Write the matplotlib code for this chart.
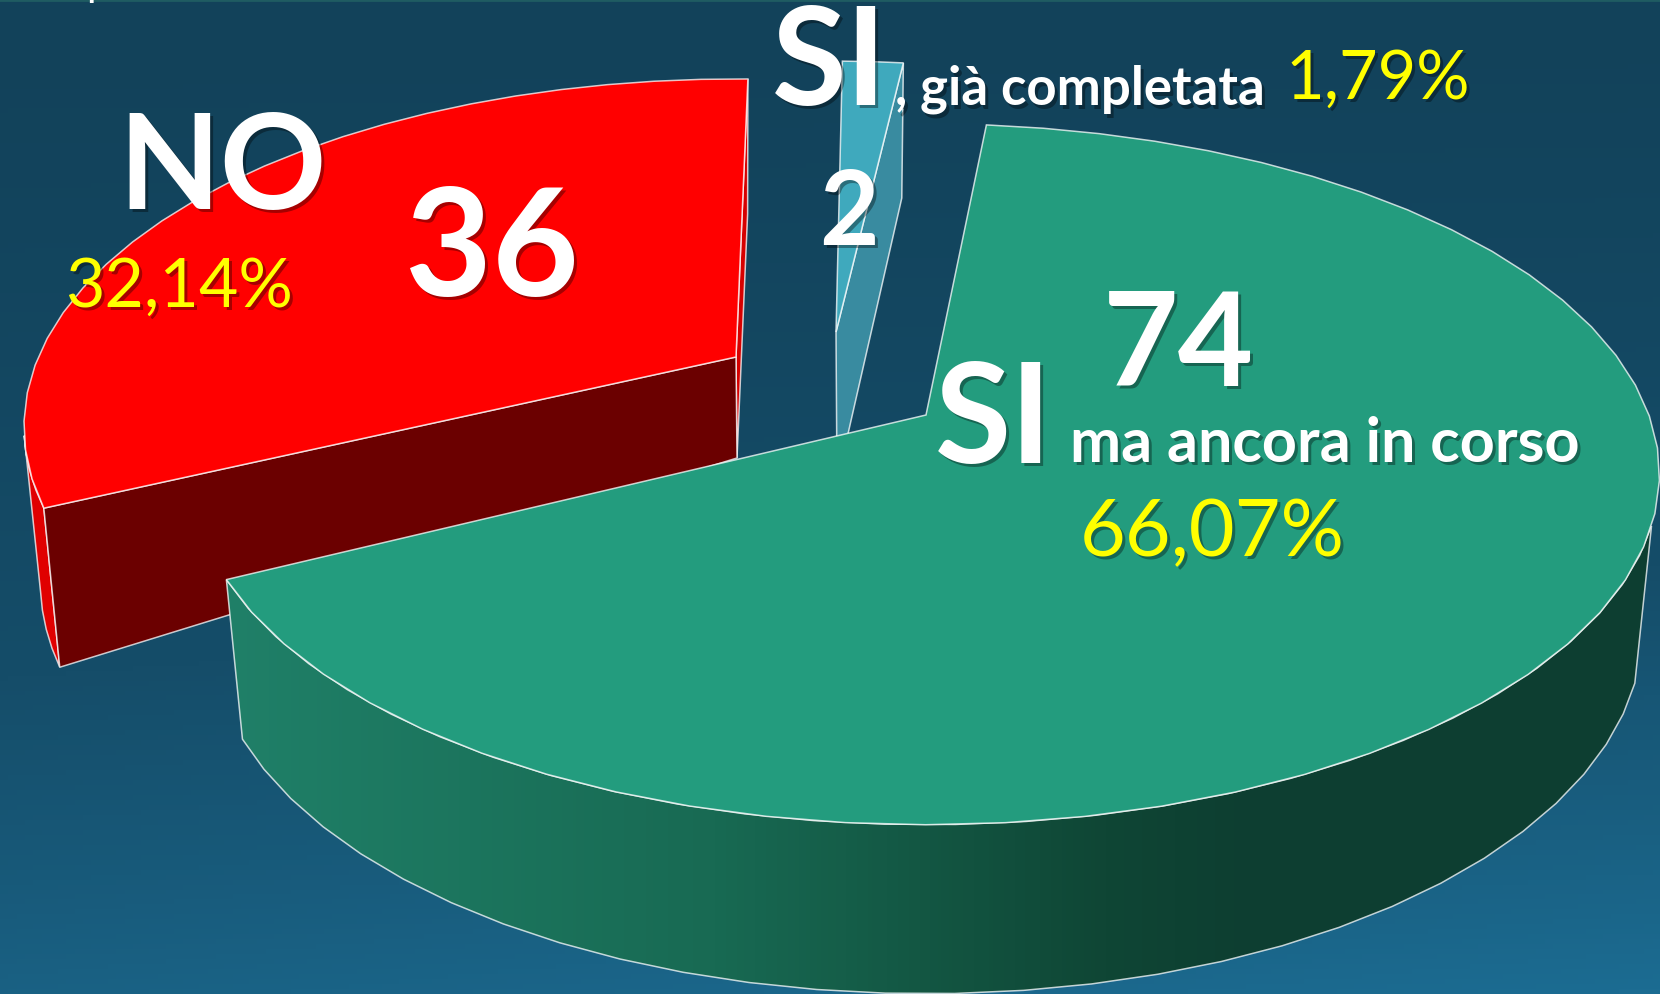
from __future__ import annotations

import matplotlib

matplotlib.use("Agg")
import matplotlib.pyplot as plt
import numpy as np
from matplotlib.colors import LinearSegmentedColormap
from matplotlib.patches import Polygon

# values
CATEGORIES = ["SI ma ancora in corso", "NO", "SI, già completata"]
COUNTS = [74, 36, 2]
PERCENT_LABELS = ["66,07%", "32,14%", "1,79%"]

WIDTH, HEIGHT = 1660, 995
FONT = ["Lato", "DejaVu Sans"]

# perspective of the pie plane, in pixels
PLANE_A = 723.0
PLANE_B = 340.5
START_DEG = 5.6
EDGE = (1, 1, 1, 0.75)


def rim_top(t_deg, apex, shape):
    sx, sy, k = shape
    t = np.radians(t_deg)
    w = 1 + k * np.cos(t)
    x = apex[0] + PLANE_A * sx * np.sin(t) / w
    y = apex[1] - PLANE_B * sy * np.cos(t) / w
    return np.column_stack([np.atleast_1d(x), np.atleast_1d(y)])


def rim_bottom(t_deg, apex, shape):
    # the lower rim sits a bit narrower, depth shrinks towards the back
    top = rim_top(t_deg, apex, shape)
    depth = 152 - 17 * np.cos(np.radians(t_deg))
    x = apex[0] + 0.977 * (top[:, 0] - apex[0])
    return np.column_stack([x, top[:, 1] + depth])


def poly(ax, pts, color, zorder, lw=1.1):
    patch = Polygon(pts, closed=True, facecolor=color, edgecolor=EDGE, linewidth=lw, zorder=zorder)
    ax.add_patch(patch)
    return patch


def draw_inner_face(ax, t, apex, apex_depth, shape, color, zorder):
    top = rim_top(t, apex, shape)[0]
    bottom = rim_bottom(t, apex, shape)[0]
    pts = [apex, top, bottom, (apex[0] + 1, apex[1] + apex_depth)]
    poly(ax, pts, color, zorder)


def label(ax, x, y, s, size, color="white", weight="bold"):
    ax.text(
        x + 3, y + 3, s, fontsize=size, color="black", alpha=0.35, fontweight=weight,
        family=FONT, ha="left", va="baseline", zorder=19,
    )
    ax.text(
        x, y, s, fontsize=size, color=color, fontweight=weight,
        family=FONT, ha="left", va="baseline", zorder=20,
    )


def main() -> None:
    fig = plt.figure(figsize=(WIDTH / 100, HEIGHT / 100), dpi=100)
    ax = fig.add_axes([0, 0, 1, 1])

    # background
    yy, xx = np.mgrid[0:1:200j, 0:1:200j]
    bg_cmap = LinearSegmentedColormap.from_list("bg", ["#12425a", "#154d69", "#1c6c92"])
    ax.imshow(
        0.82 * yy**1.3 + 0.18 * xx * yy, cmap=bg_cmap, vmin=0, vmax=1,
        extent=(0, WIDTH, HEIGHT, 0), aspect="auto", zorder=0,
    )
    ax.axhline(0.5, color="#1f5c62", linewidth=2, zorder=1)

    shares = np.array(COUNTS) / sum(COUNTS) * 360
    green_a, green_b = START_DEG, START_DEG + shares[0]
    red_a, red_b = green_b + 2.0, green_b + 2.0 + shares[1]
    blue_a, blue_b = red_b - 0.5, red_b - 0.5 + shares[2]

    # NO slice
    apex = (736, 358)
    shape = (0.965, 0.98, 0.2)
    draw_inner_face(ax, red_b, apex, 101, shape, "#d60000", 2)
    ts = np.linspace(red_a, 257, 5)
    wall = np.vstack([rim_top(ts, apex, shape), rim_bottom(ts, apex, shape)[::-1]])
    poly(ax, wall, "#e00000", 2)
    draw_inner_face(ax, red_a, apex, 101, shape, "#6b0000", 3)
    arc = rim_top(np.linspace(red_a, red_b, 26), apex, shape)
    poly(ax, np.vstack([[apex], arc]), "#ff0000", 4)

    # SI, già completata slice
    apex = (836, 333)
    shape = (0.88, 0.93, 0.169)
    draw_inner_face(ax, blue_b, apex, 150, shape, "#398ba0", 5)
    ts = np.linspace(blue_a, blue_b, 3)
    poly(ax, np.vstack([[apex], rim_top(ts, apex, shape)]), "#3fa9bd", 6)

    # SI ma ancora in corso slice
    apex = (926, 416)
    shape = (1.0, 1.0, 0.169)
    ts = np.linspace(108, green_b, 30)
    wall = np.vstack([rim_top(ts, apex, shape), rim_bottom(ts, apex, shape)[::-1]])
    wall_patch = poly(ax, wall, "none", 8)
    wall_cmap = LinearSegmentedColormap.from_list(
        "wall", [(0, "#208169"), (0.35, "#186a53"), (0.62, "#0f4635"), (0.72, "#0d3e31"), (1, "#0d3e31")]
    )
    grad = ax.imshow(
        np.linspace(0, 1, 400).reshape(1, -1), cmap=wall_cmap, extent=(200, WIDTH, HEIGHT, 0),
        aspect="auto", zorder=7,
    )
    grad.set_clip_path(wall_patch)
    arc = rim_top(np.linspace(green_a, green_b, 46), apex, shape)
    poly(ax, np.vstack([[apex], arc]), "#239c7e", 9)

    # texts
    label(ax, 118, 209, "NO", 95)
    label(ax, 405, 296, str(COUNTS[1]), 108)
    label(ax, 65, 307, PERCENT_LABELS[1], 49, color="#ffff00", weight="normal")
    label(ax, 772, 105, "SI", 98)
    label(ax, 895, 105, ", già completata", 38)
    label(ax, 1285, 99, PERCENT_LABELS[2], 48, color="#ffff00", weight="normal")
    label(ax, 819, 245, str(COUNTS[2]), 74)
    label(ax, 1103, 386, str(COUNTS[0]), 94)
    label(ax, 935, 463, "SI", 100)
    label(ax, 1070, 462, "ma ancora in corso", 44)
    label(ax, 1080, 556, PERCENT_LABELS[0], 57, color="#ffff00", weight="normal")
    ax.text(86, -4, "p", fontsize=30, color="white", family=FONT, ha="left", va="baseline", zorder=20)

    ax.set_xlim(0, WIDTH)
    ax.set_ylim(HEIGHT, 0)
    ax.axis("off")
    fig.savefig("out.png", dpi=100)
    plt.close(fig)


if __name__ == "__main__":
    main()
